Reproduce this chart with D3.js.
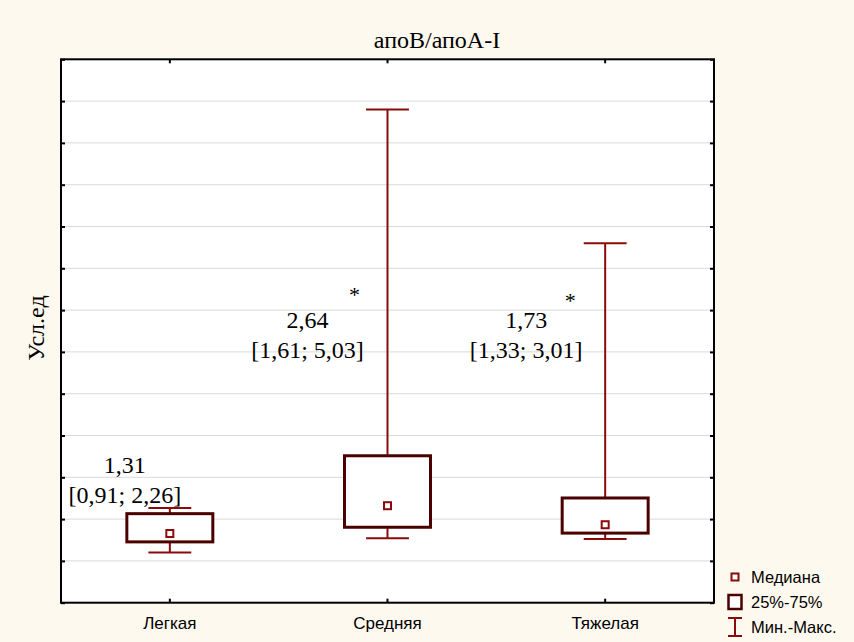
<!DOCTYPE html>
<html>
<head>
<meta charset="utf-8">
<script src="https://cdn.jsdelivr.net/npm/d3@7"></script>
<style>
  html, body { margin: 0; padding: 0; background: #fef9ee; }
  svg { display: block; }
</style>
</head>
<body>
<svg id="chart" width="854" height="642"></svg>
<script>
// Groups and their box-plot statistics
const categories = ["Легкая", "Средняя", "Тяжелая"];
const medians = [1.31, 2.64, 1.73];
const q1 = [0.91, 1.61, 1.33];
const q3 = [2.26, 5.03, 3.01];
const mins = [0.40, 1.08, 1.05];
const maxs = [2.53, 21.6, 15.2];
const medianLabels = ["1,31", "2,64", "1,73"];
const rangeLabels = ["[0,91; 2,26]", "[1,61; 5,03]", "[1,33; 3,01]"];
const significance = ["", "*", "*"];
const yTicks = [-2, 0, 2, 4, 6, 8, 10, 12, 14, 16, 18, 20, 22, 24];
const legendLabels = ["Медиана", "25%-75%", "Мин.-Макс."];

const svg = d3.select("#chart");
const plot = { left: 61, right: 714, top: 59.3, bottom: 602.7 };

const x = d3.scaleBand().domain(categories).range([plot.left, plot.right]).padding(0);
const y = d3.scaleLinear().domain([-2, 24]).range([plot.bottom, plot.top]);

const boxColor = "#4b0000";
const whiskerColor = "#8b0a0a";
const serif = "'Liberation Serif', 'Times New Roman', serif";
const sans = "'Liberation Sans', Arial, sans-serif";

// plot background
svg.append("rect")
  .attr("x", plot.left).attr("y", plot.top)
  .attr("width", plot.right - plot.left).attr("height", plot.bottom - plot.top)
  .attr("fill", "#ffffff");

// horizontal grid
svg.append("g")
  .selectAll("line")
  .data(yTicks.slice(1, -1))
  .join("line")
  .attr("x1", plot.left).attr("x2", plot.right)
  .attr("y1", d => y(d)).attr("y2", d => y(d))
  .attr("stroke", "#d9d9d9").attr("stroke-width", 1);

// axes: inward ticks, no numeric labels
const tickLen = 4;
svg.append("g").attr("transform", `translate(${plot.left},0)`)
  .call(d3.axisRight(y).tickValues(yTicks).tickSize(tickLen).tickFormat(""))
  .call(g => g.select(".domain").remove());
svg.append("g").attr("transform", `translate(${plot.right},0)`)
  .call(d3.axisLeft(y).tickValues(yTicks).tickSize(tickLen).tickFormat(""))
  .call(g => g.select(".domain").remove());
svg.append("g").attr("transform", `translate(0,${plot.top})`)
  .call(d3.axisBottom(x).tickSize(tickLen).tickFormat(""))
  .call(g => g.select(".domain").remove());
svg.append("g").attr("transform", `translate(0,${plot.bottom})`)
  .call(d3.axisTop(x).tickSize(tickLen).tickFormat(""))
  .call(g => g.select(".domain").remove());
svg.selectAll(".tick line").attr("stroke", "#000").attr("stroke-width", 2);

// category labels
svg.append("g")
  .selectAll("text")
  .data(categories)
  .join("text")
  .attr("x", d => x(d) + x.bandwidth() / 2)
  .attr("y", plot.bottom + 26)
  .attr("text-anchor", "middle")
  .attr("font-family", sans).attr("font-size", 17)
  .attr("fill", "#000")
  .text(d => d);

// frame
svg.append("rect")
  .attr("x", plot.left).attr("y", plot.top)
  .attr("width", plot.right - plot.left).attr("height", plot.bottom - plot.top)
  .attr("fill", "none").attr("stroke", "#000").attr("stroke-width", 2);

// box plots
const boxW = x.bandwidth() * 0.395;
const capW = x.bandwidth() * 0.197;
const groups = svg.append("g")
  .selectAll("g")
  .data(categories.map((c, i) => ({ c, i })))
  .join("g");

groups.append("line")
  .attr("x1", d => x(d.c) + x.bandwidth() / 2).attr("x2", d => x(d.c) + x.bandwidth() / 2)
  .attr("y1", d => y(q3[d.i])).attr("y2", d => y(maxs[d.i]))
  .attr("stroke", whiskerColor).attr("stroke-width", 2);
groups.append("line")
  .attr("x1", d => x(d.c) + x.bandwidth() / 2).attr("x2", d => x(d.c) + x.bandwidth() / 2)
  .attr("y1", d => y(q1[d.i])).attr("y2", d => y(mins[d.i]))
  .attr("stroke", whiskerColor).attr("stroke-width", 2);
[maxs, mins].forEach(arr => {
  groups.append("line")
    .attr("x1", d => x(d.c) + x.bandwidth() / 2 - capW / 2)
    .attr("x2", d => x(d.c) + x.bandwidth() / 2 + capW / 2)
    .attr("y1", d => y(arr[d.i])).attr("y2", d => y(arr[d.i]))
    .attr("stroke", whiskerColor).attr("stroke-width", 2);
});
groups.append("rect")
  .attr("x", d => x(d.c) + x.bandwidth() / 2 - boxW / 2)
  .attr("y", d => y(q3[d.i]))
  .attr("width", boxW)
  .attr("height", d => y(q1[d.i]) - y(q3[d.i]))
  .attr("fill", "#ffffff").attr("stroke", boxColor).attr("stroke-width", 3);
groups.append("rect")
  .attr("x", d => x(d.c) + x.bandwidth() / 2 - 3.5)
  .attr("y", d => y(medians[d.i]) - 3.5)
  .attr("width", 7).attr("height", 7)
  .attr("fill", "#ffffff").attr("stroke", whiskerColor).attr("stroke-width", 2);

// value annotations
const labelDx = [-45, -80, -79];
const labelY = [473, 328, 328];
const starDx = [0, -33, -35];
const starY = [302, 302, 308];
const annSize = 24;
groups.append("text")
  .attr("x", d => x(d.c) + x.bandwidth() / 2 + labelDx[d.i])
  .attr("y", d => labelY[d.i])
  .attr("text-anchor", "middle")
  .attr("font-family", serif).attr("font-size", annSize)
  .text(d => medianLabels[d.i]);
groups.append("text")
  .attr("x", d => x(d.c) + x.bandwidth() / 2 + labelDx[d.i])
  .attr("y", d => labelY[d.i] + 30)
  .attr("text-anchor", "middle")
  .attr("font-family", serif).attr("font-size", annSize)
  .text(d => rangeLabels[d.i]);
groups.filter(d => significance[d.i])
  .append("text")
  .attr("x", d => x(d.c) + x.bandwidth() / 2 + starDx[d.i])
  .attr("y", d => starY[d.i])
  .attr("text-anchor", "middle")
  .attr("font-family", serif).attr("font-size", 22)
  .text(d => significance[d.i]);

// title
svg.append("text")
  .attr("x", 437).attr("y", 48)
  .attr("text-anchor", "middle")
  .attr("font-family", serif).attr("font-size", 24)
  .text("апоB/апоA-I");

// y-axis title
svg.append("text")
  .attr("transform", "translate(44,328) rotate(-90)")
  .attr("text-anchor", "middle")
  .attr("font-family", serif).attr("font-size", 24)
  .text("Усл.ед");

// legend
const lg = svg.append("g");
const lx = 735, ly = [577, 602, 627];
lg.append("rect").attr("x", lx - 3.5).attr("y", ly[0] - 3.5).attr("width", 7).attr("height", 7)
  .attr("fill", "#fff").attr("stroke", whiskerColor).attr("stroke-width", 2);
lg.append("rect").attr("x", lx - 6.5).attr("y", ly[1] - 7).attr("width", 13).attr("height", 14)
  .attr("fill", "#fff").attr("stroke", boxColor).attr("stroke-width", 2.5);
lg.append("line").attr("x1", lx).attr("x2", lx).attr("y1", ly[2] - 9).attr("y2", ly[2] + 9)
  .attr("stroke", whiskerColor).attr("stroke-width", 2);
lg.append("line").attr("x1", lx - 7).attr("x2", lx + 7).attr("y1", ly[2] - 9).attr("y2", ly[2] - 9)
  .attr("stroke", whiskerColor).attr("stroke-width", 2);
lg.append("line").attr("x1", lx - 7).attr("x2", lx + 7).attr("y1", ly[2] + 9).attr("y2", ly[2] + 9)
  .attr("stroke", whiskerColor).attr("stroke-width", 2);
lg.selectAll("text.lab")
  .data(legendLabels)
  .join("text")
  .attr("class", "lab")
  .attr("x", 751)
  .attr("y", (d, i) => ly[i] + 6)
  .attr("font-family", sans).attr("font-size", 16.5)
  .text(d => d);
</script>
</body>
</html>
